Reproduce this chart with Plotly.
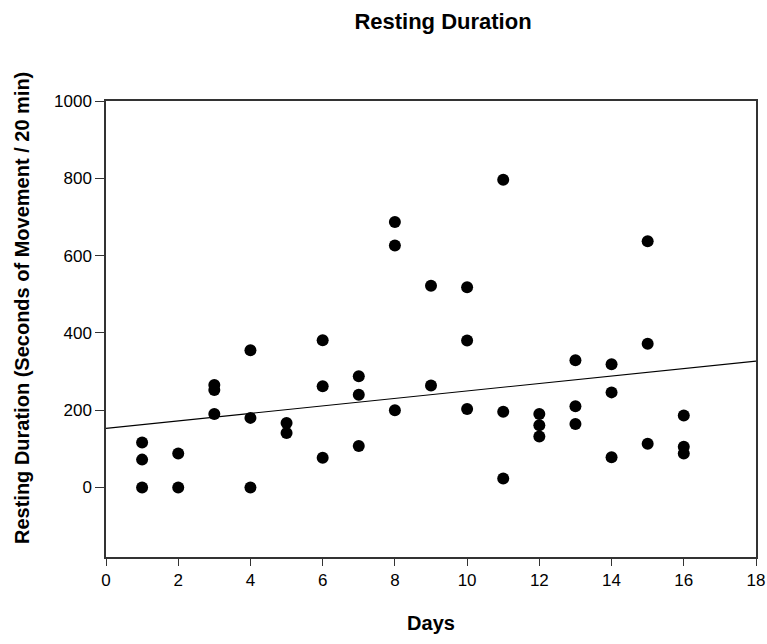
import plotly.graph_objects as go

days = [1, 1, 1,
        2, 2,
        3, 3, 3,
        4, 4, 4,
        5, 5,
        6, 6, 6,
        7, 7, 7,
        8, 8, 8,
        9, 9,
        10, 10, 10,
        11, 11, 11,
        12, 12, 12,
        13, 13, 13,
        14, 14, 14,
        15, 15, 15,
        16, 16, 16]
resting = [0, 72, 116,
           0, 88,
           190, 252, 265,
           0, 180, 355,
           141, 167,
           77, 262, 381,
           107, 240, 288,
           200, 626, 687,
           264, 522,
           203, 380, 518,
           23, 196, 796,
           132, 161, 190,
           164, 210, 329,
           78, 246, 319,
           113, 372, 637,
           88, 105, 186]

fit_x = [0, 18]
fit_y = [153, 327]

x_ticks = list(range(0, 19, 2))
y_ticks = [0, 200, 400, 600, 800, 1000]

fig = go.Figure()
fig.add_trace(go.Scatter(x=fit_x, y=fit_y, mode="lines",
                         line=dict(color="black", width=1.2),
                         showlegend=False, hoverinfo="skip"))
fig.add_trace(go.Scatter(x=days, y=resting, mode="markers",
                         marker=dict(color="black", size=12),
                         showlegend=False))

font_family = "Liberation Sans, Arial, sans-serif"
W, H = 767, 644
L, R, T, B = 106, 11, 101, 87
pw, ph = W - L - R, H - T - B
fig.update_layout(
    width=W, height=H,
    margin=dict(l=L, r=R, t=T, b=B, autoexpand=False),
    paper_bgcolor="white", plot_bgcolor="white",
    font=dict(family=font_family, color="black", size=16),
    title=dict(text="<b>Resting Duration</b>", x=443/W, xanchor="center",
               y=1 - 21/H, yanchor="middle",
               font=dict(size=22, family=font_family, color="black")),
    annotations=[dict(text="<b>Resting Duration (Seconds of Movement / 20 min)</b>",
                      xref="paper", yref="paper",
                      x=(22 - L) / pw, y=(H - B - 308) / ph,
                      xanchor="center", yanchor="middle", textangle=-90,
                      showarrow=False, font=dict(size=20, family=font_family, color="black"))],
)
fig.update_xaxes(range=[0, 18], tickvals=x_ticks, showgrid=False, zeroline=False,
                 showline=True, linecolor="#333", linewidth=1.5, mirror=True,
                 ticks="outside", ticklen=7, tickcolor="#333", tickwidth=1.2,
                 tickfont=dict(size=17), automargin=False,
                 title=dict(text="<b>Days</b>", font=dict(size=20), standoff=27))
fig.update_yaxes(range=[-180, 1000], tickvals=y_ticks, showgrid=False, zeroline=False,
                 showline=True, linecolor="#333", linewidth=1.5, mirror=True,
                 ticks="outside", ticklen=9, tickcolor="#333", tickwidth=1.2,
                 tickfont=dict(size=17), automargin=False)
fig.write_html("out.html")
